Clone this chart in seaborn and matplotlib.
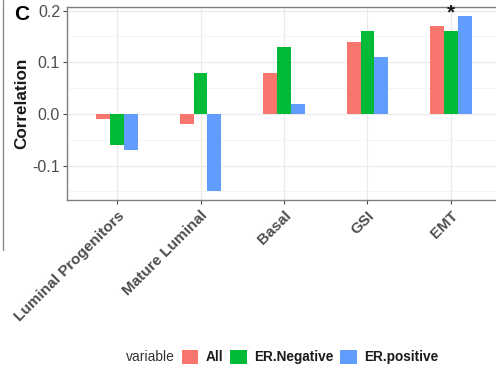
import matplotlib
matplotlib.use("Agg")
import matplotlib.pyplot as plt
from matplotlib.lines import Line2D
from matplotlib.patches import Patch
from matplotlib.ticker import MultipleLocator
import seaborn as sns
import pandas as pd

# Correlation of each signature score with the outcome, by ER subgroup
signatures = ["Luminal Progenitors", "Mature Luminal", "Basal", "GSI", "EMT"]
groups = ["All", "ER.Negative", "ER.positive"]
corr_all = [-0.01, -0.02, 0.08, 0.14, 0.17]
corr_er_neg = [-0.06, 0.08, 0.13, 0.16, 0.16]
corr_er_pos = [-0.07, -0.15, 0.02, 0.11, 0.19]
palette = ["#F8766D", "#00BA38", "#619CFF"]

df = pd.DataFrame({
    "signature": signatures * 3,
    "variable": [g for g in groups for _ in signatures],
    "value": corr_all + corr_er_neg + corr_er_pos,
})

sns.set_theme(style="white")
plt.rcParams["font.family"] = ["Liberation Sans", "DejaVu Sans"]

fig = plt.figure(figsize=(4.96, 3.68), dpi=100)
ax = fig.add_axes([67 / 496, 1 - 200 / 368, (501 - 67) / 496, (200 - 7) / 368])

sns.barplot(data=df, x="signature", y="value", hue="variable",
            order=signatures, hue_order=groups, palette=palette,
            width=0.5, saturation=1, errorbar=None, ax=ax,
            edgecolor="none", linewidth=0, legend=False)

ax.set_xlim(-0.6, len(signatures) - 0.4)
ax.set_ylim(-0.1665, 0.207)
ax.yaxis.set_minor_locator(MultipleLocator(0.05))
ax.set_yticks([-0.1, 0.0, 0.1, 0.2])
ax.set_yticklabels(["-0.1", "0.0", "0.1", "0.2"])

ax.set_axisbelow(True)
ax.grid(True, which="major", color="#EBEBEB", linewidth=0.9)
ax.grid(True, which="minor", axis="y", color="#F2F2F2", linewidth=0.6)
for s in ax.spines.values():
    s.set_color("#7F7F7F")
    s.set_linewidth(1.0)

ax.tick_params(axis="both", which="major", length=3, width=0.8, color="#4D4D4D",
               bottom=True, left=True)
ax.tick_params(axis="y", which="minor", length=0)
ax.tick_params(axis="y", labelsize=11.5, labelcolor="#4D4D4D", pad=2)
ax.tick_params(axis="x", labelsize=11, labelcolor="#4D4D4D", pad=3)
for lab in ax.get_xticklabels():
    lab.set_rotation(45)
    lab.set_ha("right")
    lab.set_va("top")
    lab.set_rotation_mode("anchor")
    lab.set_fontweight("bold")

ax.set_xlabel("")
ax.set_ylabel("Correlation", fontsize=12.3, fontweight="bold", color="#1A1A1A",
              ha="center", va="center")
ax.yaxis.set_label_coords(-45 / 434, 0.5)

# significance marker above EMT, ER.Negative
emt = signatures.index("EMT")
ax.text(emt, 0.2, "*", ha="center", va="center_baseline", fontsize=15, fontweight="bold",
        color="#1A1A1A")

# legend along the bottom: title, then the three keys
fig.text(175 / 496, 1 - 357 / 368, "variable", ha="right", va="center",
         fontsize=10, color="#333333")
handles = [Patch(facecolor=c, edgecolor="none") for c in palette]
leg = fig.legend(handles, groups, loc="center left",
                 bbox_to_anchor=(182 / 496, 1 - 357 / 368),
                 ncol=3, frameon=False, handlelength=1.2, handleheight=1.2,
                 handletextpad=0.55, columnspacing=0.5, fontsize=9.8,
                 borderpad=0, borderaxespad=0)
for t in leg.get_texts():
    t.set_fontweight("bold")
    t.set_color("#1A1A1A")

fig.text(22 / 496, 1 - 15 / 368, "C", fontsize=15, fontweight="bold", ha="center",
         va="center", color="black")

# border of the neighbouring panel
fig.add_artist(Line2D([2.5 / 496, 2.5 / 496], [1.0, 1 - 250 / 368],
                      transform=fig.transFigure, color="#8C8C8C", linewidth=1.0))

fig.savefig("out.png", dpi=100)
